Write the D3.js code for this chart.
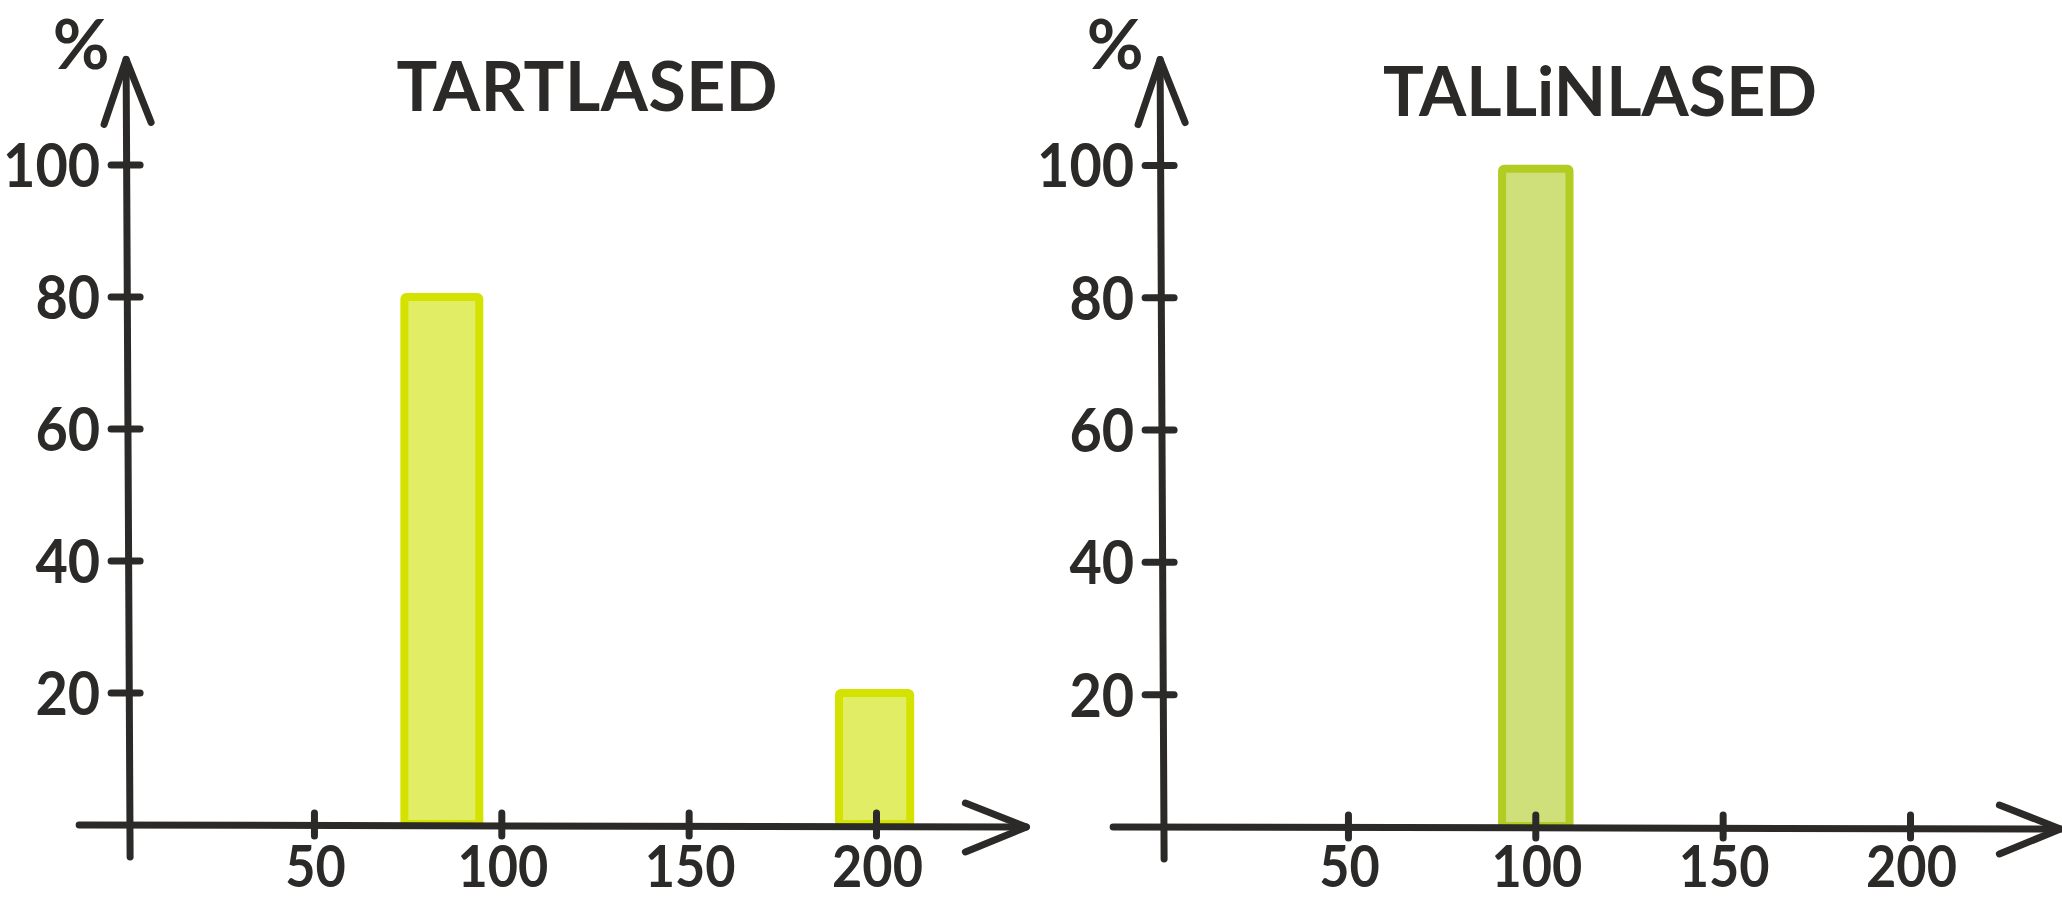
<!DOCTYPE html>
<html>
<head>
<meta charset="utf-8">
<script src="https://cdn.jsdelivr.net/npm/d3@7"></script>
<style>
html, body { margin: 0; padding: 0; background: #ffffff; }
svg { display: block; }
text { font-family: Lato, "Open Sans", sans-serif; font-weight: 700; fill: #2b2a28; }
</style>
</head>
<body>
<svg id="chart" width="2062" height="901"></svg>
<script>
// ---------- data ----------
const panelTitles = ["TARTLASED", "TALLiNLASED"];
const tartlasedBinStart = [74, 190];
const tartlasedBinEnd = [94, 209];
const tartlasedPercent = [80, 20];
const tallinlasedBinStart = [91];
const tallinlasedBinEnd = [109];
const tallinlasedPercent = [99.5];
const xTickValues = [50, 100, 150, 200];
const xTickLabels = ["50", "100", "150", "200"];
const yTickValues = [20, 40, 60, 80, 100];
const yTickLabels = ["20", "40", "60", "80", "100"];
const yUnitLabel = "%";

// ---------- layout / style ----------
const ink = "#2b2a28";
const panels = [
  { title: panelTitles[0], start: tartlasedBinStart, end: tartlasedBinEnd, values: tartlasedPercent,
    x0: 127.1, y0: 825, y100: 165, titleX: 587, titleY: 111, titleW: 381,
    fill: "#e2ed66", stroke: "#d4e200" },
  { title: panelTitles[1], start: tallinlasedBinStart, end: tallinlasedBinEnd, values: tallinlasedPercent,
    x0: 1161.1, y0: 827, y100: 165.4, titleX: 1600, titleY: 116, titleW: 434,
    fill: "#cfe07a", stroke: "#b2cc22" }
];
const pxPerUnitX = 3.747;
const xMax = 240;
const yMax = 116;
const labelSize = 62;
const labelSquash = 0.9;

const svg = d3.select("#chart");

panels.forEach(p => {
  const x = d3.scaleLinear().domain([0, xMax]).range([p.x0, p.x0 + xMax * pxPerUnitX]);
  const y = d3.scaleLinear().domain([0, 100]).range([p.y0, p.y100]);
  const g = svg.append("g");

  // bars
  const bars = p.values.map((v, i) => ({ s: p.start[i], e: p.end[i], v }));
  g.selectAll("rect.bar").data(bars).join("rect")
    .attr("class", "bar")
    .attr("x", d => x(d.s))
    .attr("y", d => y(d.v))
    .attr("width", d => x(d.e) - x(d.s))
    .attr("height", d => y(0) - y(d.v) - 1)
    .attr("rx", 2)
    .attr("fill", p.fill)
    .attr("stroke", p.stroke)
    .attr("stroke-width", 8)
    .attr("stroke-linejoin", "round");

  const line = d3.line();
  const axisStyle = sel => sel.attr("fill", "none").attr("stroke", ink)
    .attr("stroke-width", 7).attr("stroke-linecap", "round").attr("stroke-linejoin", "round");

  // y axis
  const yTop = y(yMax);
  g.append("path").call(axisStyle)
    .attr("d", line([[x(0) - 1, yTop], [x(0) + 3, y(0) + 32]]));
  g.append("path").call(axisStyle)
    .attr("d", line([[x(0) - 23, yTop + 65], [x(0) - 1, yTop], [x(0) + 24, yTop + 63]]));

  // x axis
  const xTip = x(xMax);
  g.append("path").call(axisStyle)
    .attr("d", line([[x(-12.8), y(0)], [xTip, y(0) + 2]]));
  g.append("path").call(axisStyle)
    .attr("d", line([[xTip - 61, y(0) - 22], [xTip, y(0) + 2], [xTip - 61, y(0) + 27]]));

  // y ticks
  g.selectAll("path.ytick").data(yTickValues).join("path")
    .attr("class", "ytick").call(axisStyle)
    .attr("d", v => line([[x(0) - 16, y(v)], [x(0) + 13, y(v)]]));
  g.selectAll("text.ylab").data(yTickValues).join("text")
    .attr("class", "ylab")
    .attr("transform", v => `translate(${x(0) - 27},${y(v) + 22}) scale(${labelSquash},1)`)
    .attr("text-anchor", "end")
    .attr("font-size", labelSize)
    .text((v, i) => yTickLabels[i]);

  // x ticks
  g.selectAll("path.xtick").data(xTickValues).join("path")
    .attr("class", "xtick").call(axisStyle)
    .attr("d", v => line([[x(v), y(0) - 12], [x(v), y(0) + 11]]));
  g.selectAll("text.xlab").data(xTickValues).join("text")
    .attr("class", "xlab")
    .attr("transform", v => `translate(${x(v) + 1},${887}) scale(${labelSquash},1)`)
    .attr("text-anchor", "middle")
    .attr("font-size", 58)
    .text((v, i) => xTickLabels[i]);

  // unit label
  g.append("text")
    .attr("transform", `translate(${x(0) - 46},${69}) scale(1.02,1)`)
    .attr("text-anchor", "middle")
    .attr("font-size", 68)
    .text(yUnitLabel);

  // title
  g.append("text")
    .attr("x", p.titleX)
    .attr("y", p.titleY)
    .attr("text-anchor", "middle")
    .attr("font-size", 68)
    .attr("textLength", p.titleW)
    .attr("lengthAdjust", "spacing")
    .text(p.title);
});
</script>
</body>
</html>
